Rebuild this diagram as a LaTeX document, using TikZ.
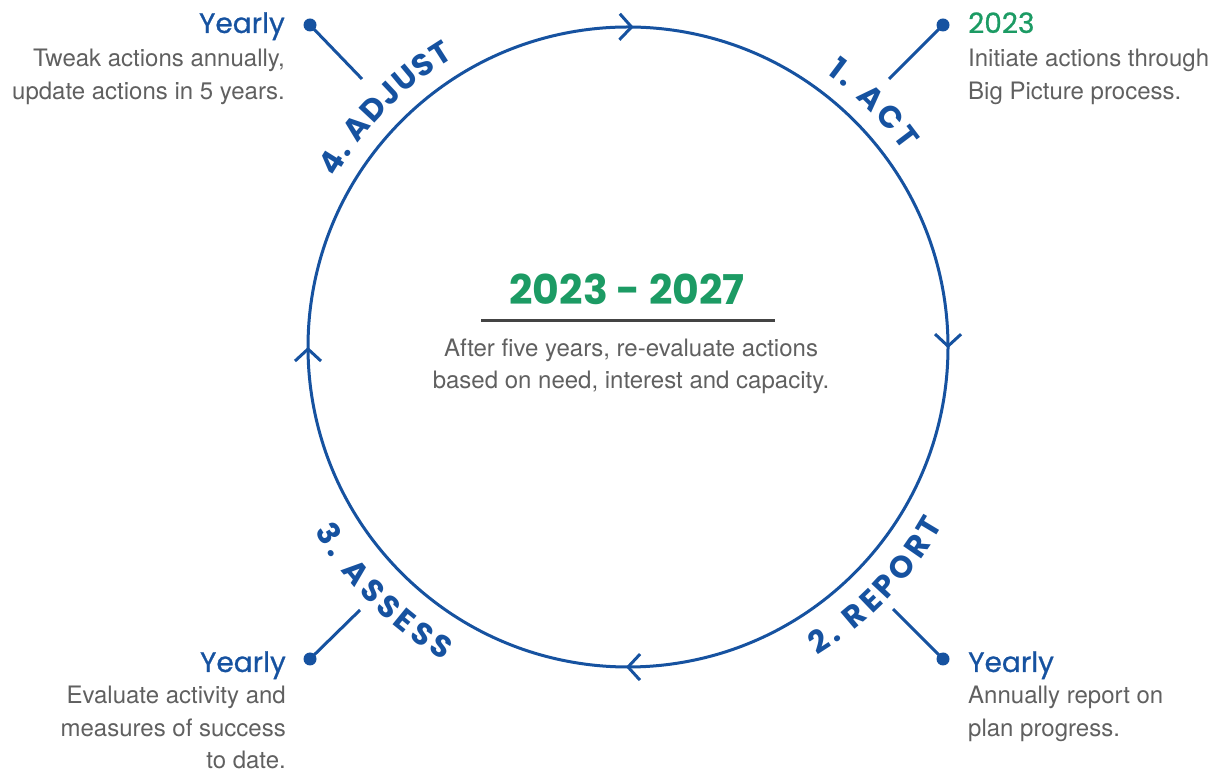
\documentclass[tikz,border=0pt]{standalone}
\usepackage{fontspec}
\setmainfont{TeX Gyre Heros}
\newfontfamily\pop{Poppins}
\newfontfamily\popm[FakeBold=0.8]{Poppins}
\usetikzlibrary{decorations.text,decorations.markings,arrows.meta}
\definecolor{dblue}{HTML}{1652A0}
\definecolor{dgreen}{HTML}{1C9B64}
\definecolor{tgrey}{HTML}{606060}
\definecolor{rulegrey}{HTML}{444444}
\newcommand\lblfont{\pop\bfseries\fontsize{31}{31}\selectfont\color{dblue}}
\tikzset{
  body/.style={font=\fontsize{24}{28}\selectfont, text=tgrey, inner sep=0pt},
  head/.style={font=\popm\fontsize{28}{32}\selectfont, text=dblue, inner sep=0pt},
  dotnode/.style={circle, fill=dblue, inner sep=0pt, minimum size=13pt},
  leader/.style={draw=dblue, line width=3pt},
  ring/.style={draw=dblue, line width=3pt},
}
\begin{document}
\begin{tikzpicture}[x=1pt,y=1pt]
\useasboundingbox (0,0) rectangle (1220,773);
\coordinate (C) at (628,426);

% ring with chevrons
\draw[ring, postaction={decorate}, decoration={markings,
   mark=at position 0.1278 with {\arrow[line width=3pt]{Straight Barb[length=12pt,width=26pt]}},
   mark=at position 0.3756 with {\arrow[line width=3pt]{Straight Barb[length=12pt,width=26pt]}},
   mark=at position 0.6260 with {\arrow[line width=3pt]{Straight Barb[length=12pt,width=26pt]}},
   mark=at position 0.8750 with {\arrow[line width=3pt]{Straight Barb[length=12pt,width=26pt]}}}]
  (C) ++(135:320) arc[start angle=135, end angle=-225, radius=320];

% curved labels
\path[decorate, decoration={text along path, text={|\lblfont|1. ACT}, text align=fit to path}]
  (C) ++(54:338) arc[start angle=54, end angle=35.5, radius=338];
\path[decorate, decoration={text along path, text={|\lblfont|4. ADJUST}, text align=fit to path}]
  (C) ++(150:338) arc[start angle=150, end angle=121, radius=338];
\path[decorate, decoration={text along path, text={|\lblfont|2. REPORT}, text align=fit to path}]
  (C) ++(-58.5:362) arc[start angle=-58.5, end angle=-29.5, radius=362];
\path[decorate, decoration={text along path, text={|\lblfont|3. ASSESS}, text align=fit to path}]
  (C) ++(-149.5:364) arc[start angle=-149.5, end angle=-120.5, radius=364];

% dots and leader lines
\node[dotnode] (dTL) at (310,748) {};
\node[dotnode] (dTR) at (943,748) {};
\node[dotnode] (dBR) at (943,114) {};
\node[dotnode] (dBL) at (310,114) {};
\coordinate (eTL) at (362,694);
\coordinate (eTR) at (889,694);
\coordinate (eBR) at (893,164);
\coordinate (eBL) at (360,163);
\draw[leader] (dTL.center) -- (eTL);
\draw[leader] (dTR.center) -- (eTR);
\draw[leader] (dBR.center) -- (eBR);
\draw[leader] (dBL.center) -- (eBL);

% top-left text
\node[head, anchor=base east] (hTL) at (285,740) {Yearly};
\node[body, anchor=base east] (tTL1) at (285,706) {Tweak actions annually,};
\node[body, anchor=base east] (tTL2) at (285,673) {update actions in 5 years.};

% top-right text
\node[head, text=dgreen, anchor=base west] (hTR) at (968,740) {2023};
\node[body, anchor=base west] (tTR1) at (968,706) {Initiate actions through};
\node[body, anchor=base west] (tTR2) at (968,673) {Big Picture process.};

% bottom-right text
\node[head, anchor=base west] (hBR) at (968,101) {Yearly};
\node[body, anchor=base west] (tBR1) at (968,69) {Annually report on};
\node[body, anchor=base west] (tBR2) at (968,36) {plan progress.};

% bottom-left text
\node[head, anchor=base east] (hBL) at (286,101) {Yearly};
\node[body, anchor=base east] (tBL1) at (286,69) {Evaluate activity and};
\node[body, anchor=base east] (tBL2) at (286,36) {measures of success};
\node[body, anchor=base east] (tBL3) at (286,4) {to date.};

% centre
\node[font=\pop\bfseries\fontsize{41}{43}\selectfont, text=dgreen, inner sep=0pt, anchor=base] (title) at (627,468) {2023 - 2027};
\coordinate (rL) at (481,452);
\coordinate (rR) at (775,452);
\draw[rulegrey, line width=3pt] (rL) -- (rR);
\node[body, anchor=base] (c1) at (631,416) {After five years, re-evaluate actions};
\node[body, anchor=base] (c2) at (631,384) {based on need, interest and capacity.};
\end{tikzpicture}
\end{document}
